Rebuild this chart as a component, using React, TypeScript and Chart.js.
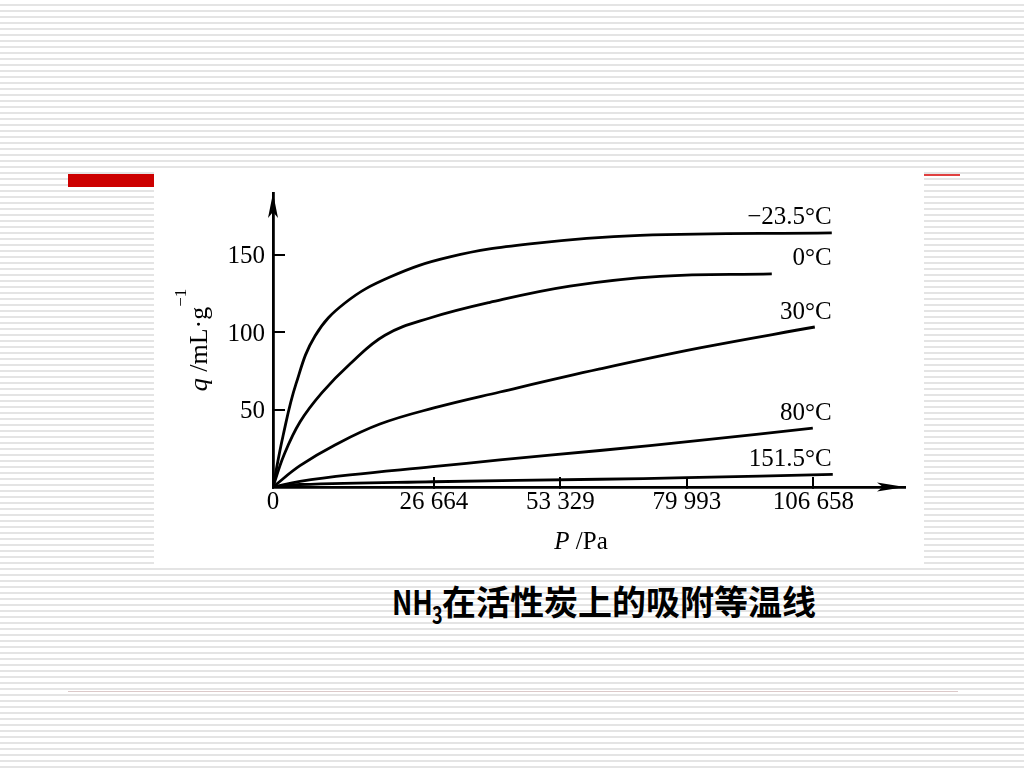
import React, { useEffect, useRef } from 'react';
import { Chart, registerables, LinearScale } from 'chart.js';

// ---------- data ----------
const X_TICKS = [0, 26664, 53329, 79993, 106658];
const X_TICK_LABELS = ['0', '26 664', '53 329', '79 993', '106 658'];
const Y_TICKS = [50, 100, 150];
const SERIES_NAMES = ['−23.5°C', '0°C', '30°C', '80°C', '151.5°C'];

const P_M23 = [0, 1660, 3810, 6960, 11920, 19380, 30040, 46900, 70090, 110560];
const Q_M23 = [0, 33.0, 66.6, 97.6, 118.9, 135.7, 148.7, 157.1, 162.6, 164.2];

const P_0 = [0, 1820, 4470, 8120, 12750, 18550, 26000, 38470, 55330, 74310, 97910];
const Q_0 = [0, 20.7, 42.0, 61.0, 79.5, 98.1, 109.2, 119.3, 129.8, 136.1, 137.7];

const P_30 = [0, 4470, 10270, 17720, 26660, 40580, 61660, 82740, 106980];
const Q_30 = [0, 13.8, 27.2, 40.7, 51.1, 61.4, 76.3, 89.9, 103.4];

const P_80 = [0, 4470, 12750, 26500, 40580, 61660, 82740, 106560];
const Q_80 = [0, 3.6, 7.8, 13.1, 17.5, 23.6, 30.1, 38.1];

const P_151 = [0, 4470, 26500, 61660, 80000, 110770];
const Q_151 = [0, 1.6, 3.4, 5.0, 6.0, 8.2];

const SERIES_P = [P_M23, P_0, P_30, P_80, P_151];
const SERIES_Q = [Q_M23, Q_0, Q_30, Q_80, Q_151];

const X_MAX = 126000;
const Y_MAX = 190;
const LABEL_P = 110560; // right edge of the isotherm labels

// The printed axis has a wider first interval (0 .. 26 664) than the others.
const FIRST_GAP = 161 / 126.5;
const STEP = (X_TICKS[4] - X_TICKS[1]) / 3;
function toUnit(v: number) {
  return v <= X_TICKS[1] ? (FIRST_GAP * v) / X_TICKS[1] : FIRST_GAP + (v - X_TICKS[1]) / STEP;
}
function fromUnit(u: number) {
  return u <= FIRST_GAP ? (u / FIRST_GAP) * X_TICKS[1] : X_TICKS[1] + (u - FIRST_GAP) * STEP;
}

class FigureXScale extends LinearScale {
  static id = 'figurex';
  static defaults = LinearScale.defaults;
  getPixelForValue(value: any) {
    if (value === null || value === undefined || isNaN(value)) return NaN;
    const u0 = toUnit(this.min), u1 = toUnit(this.max);
    return this.getPixelForDecimal((toUnit(value) - u0) / (u1 - u0));
  }
  getValueForPixel(pixel: number) {
    const u0 = toUnit(this.min), u1 = toUnit(this.max);
    return fromUnit(u0 + this.getDecimalForPixel(pixel) * (u1 - u0));
  }
}

Chart.register(...registerables, FigureXScale as any);

const SERIF = '"Liberation Serif", "Times New Roman", serif';

const decorPlugin = {
  id: 'figureDecor',
  afterDraw(chart: any) {
    const { ctx, chartArea: a, scales } = chart;
    const xs = scales.x;
    ctx.save();
    ctx.fillStyle = '#000';
    // arrow heads
    ctx.beginPath();
    ctx.moveTo(a.left, a.top);
    ctx.lineTo(a.left - 5, a.top + 25);
    ctx.lineTo(a.left, a.top + 19);
    ctx.lineTo(a.left + 5, a.top + 25);
    ctx.closePath();
    ctx.fill();
    ctx.beginPath();
    ctx.moveTo(a.right, a.bottom);
    ctx.lineTo(a.right - 28, a.bottom - 4.5);
    ctx.lineTo(a.right - 22, a.bottom);
    ctx.lineTo(a.right - 28, a.bottom + 4.5);
    ctx.closePath();
    ctx.fill();

    // isotherm labels
    ctx.font = '25px ' + SERIF;
    ctx.textAlign = 'right';
    ctx.textBaseline = 'middle';
    const lx = xs.getPixelForValue(LABEL_P);
    chart.data.datasets.forEach((ds: any, i: number) => {
      const meta = chart.getDatasetMeta(i);
      const last = meta.data[meta.data.length - 1];
      ctx.fillText(ds.label, lx, last.y - 15);
    });

    // x title: P /Pa
    ctx.textBaseline = 'alphabetic';
    ctx.textAlign = 'left';
    const xParts = [
      { t: 'P', f: 'italic 25px ' + SERIF },
      { t: ' /Pa', f: '25px ' + SERIF },
    ];
    let w = 0;
    xParts.forEach((p) => { ctx.font = p.f; w += ctx.measureText(p.t).width; });
    let cx = (a.left + a.right) / 2 - 8 - w / 2;
    const by = a.bottom + 62;
    xParts.forEach((p) => { ctx.font = p.f; ctx.fillText(p.t, cx, by); cx += ctx.measureText(p.t).width; });

    // y title: q /mL·g^-1 (rotated)
    ctx.translate(a.left - 66, (a.top + a.bottom) / 2);
    ctx.rotate(-Math.PI / 2);
    const yParts = [
      { t: 'q', f: 'italic 26px ' + SERIF, dy: 0 },
      { t: ' /mL·g', f: '26px ' + SERIF, dy: 0 },
      { t: '−1', f: '17px ' + SERIF, dy: -21 },
    ];
    w = 0;
    yParts.forEach((p) => { ctx.font = p.f; w += ctx.measureText(p.t).width; });
    let tx = -w / 2;
    yParts.forEach((p) => { ctx.font = p.f; ctx.fillText(p.t, tx, p.dy); tx += ctx.measureText(p.t).width; });
    ctx.restore();
  },
};

export default function App() {
  const ref = useRef<HTMLCanvasElement>(null);
  useEffect(() => {
    if (!ref.current) return;
    const chart = new Chart(ref.current, {
      type: 'line',
      data: {
        datasets: SERIES_NAMES.map((name, i) => ({
          label: name,
          data: SERIES_P[i].map((p, j) => ({ x: p, y: SERIES_Q[i][j] })),
          borderColor: '#000',
          borderWidth: 2.8,
          pointRadius: 0,
          fill: false,
          tension: 0.4,
        })),
      },
      options: {
        animation: false,
        responsive: true,
        maintainAspectRatio: false,
        layout: { padding: { top: 23, right: 19, left: 0, bottom: 0 } },
        plugins: { legend: { display: false }, tooltip: { enabled: false } },
        scales: {
          x: {
            type: 'figurex' as any,
            min: 0,
            max: X_MAX,
            afterBuildTicks: (s: any) => { s.ticks = X_TICKS.map((v) => ({ value: v })); },
            afterFit: (s: any) => { s.height = 81; s.paddingLeft = 0; s.paddingRight = 0; },
            border: { display: true, color: '#000', width: 2.8 },
            grid: { drawOnChartArea: false, drawTicks: true, tickLength: -10, color: '#000', lineWidth: 2 },
            ticks: {
              callback: (_v: any, i: number) => X_TICK_LABELS[i],
              font: { family: SERIF, size: 25 },
              color: '#000',
              padding: 10,
              maxRotation: 0,
              autoSkip: false,
            },
          },
          y: {
            type: 'linear',
            min: 0,
            max: Y_MAX,
            afterBuildTicks: (s: any) => { s.ticks = Y_TICKS.map((v) => ({ value: v })); },
            afterFit: (s: any) => { s.width = 119; s.paddingTop = 0; s.paddingBottom = 0; },
            border: { display: true, color: '#000', width: 2.8 },
            grid: { drawOnChartArea: false, drawTicks: true, tickLength: -12, color: '#000', lineWidth: 2 },
            ticks: {
              callback: (v: any) => String(v),
              font: { family: SERIF, size: 25 },
              color: '#000',
              padding: 20,
              labelOffset: 2,
            },
          },
        },
      },
      plugins: [decorPlugin],
    } as any);
    return () => chart.destroy();
  }, []);

  return (
    <div
      style={{
        position: 'fixed',
        left: 0,
        top: 0,
        width: 1024,
        height: 768,
        overflow: 'hidden',
        background: 'repeating-linear-gradient(to bottom, #ffffff 0px, #ffffff 4px, #e4e4e4 4px, #e4e4e4 6px)',
      }}
    >
      <div style={{ position: 'absolute', left: 68, top: 174, width: 86, height: 13, background: '#cc0000' }} />
      <div style={{ position: 'absolute', left: 924, top: 174, width: 36, height: 2, background: '#e04040' }} />
      <div style={{ position: 'absolute', left: 68, top: 691, width: 890, height: 1, background: '#dcc9c9' }} />
      <div style={{ position: 'absolute', left: 154, top: 170, width: 770, height: 398, background: '#ffffff' }}>
        <canvas ref={ref} />
      </div>
      <div
        style={{
          position: 'absolute',
          left: 392,
          top: 584,
          fontFamily: '"Noto Sans CJK SC", sans-serif',
          fontWeight: 'bold',
          fontSize: 34,
          lineHeight: '34px',
          whiteSpace: 'nowrap',
          color: '#000',
        }}
      >
        <span style={{ display: 'inline-block', width: 40, transform: 'scaleX(0.8)', transformOrigin: 'left center' }}>NH</span>
        <span style={{ display: 'inline-block', width: 10, fontSize: 24, position: 'relative', top: 9, transform: 'scaleX(0.75)', transformOrigin: 'left center' }}>3</span>
        在活性炭上的吸附等温线
      </div>
    </div>
  );
}
